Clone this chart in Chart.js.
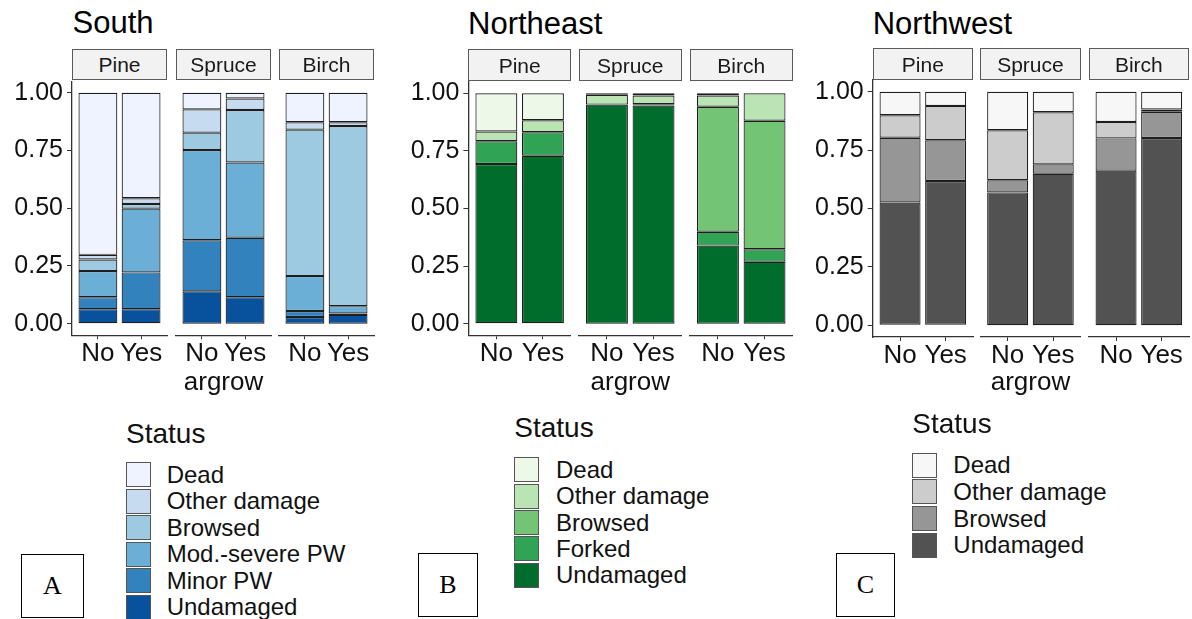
<!DOCTYPE html>
<html><head><meta charset="utf-8">
<script src="https://cdn.jsdelivr.net/npm/chart.js@4.4.1/dist/chart.umd.min.js"></script>
<style>
html,body{margin:0;padding:0;background:#fff;width:1192px;height:619px;overflow:hidden;position:relative;font-family:"Liberation Sans",Arial,sans-serif;color:#1a1a1a}
canvas{position:absolute}
.abs{position:absolute;white-space:nowrap;line-height:1}
.strip{position:absolute;box-sizing:border-box;border:1px solid #5a5a5a;background:#f2f2f2;display:flex;align-items:center;justify-content:center;font-size:21px;color:#1a1a1a;line-height:1;z-index:2}
.key{position:absolute;box-sizing:border-box;border:1.5px solid #555}
.letter{position:absolute;box-sizing:border-box;border:1px solid #000;display:flex;align-items:center;justify-content:center;font-family:"Liberation Serif","Times New Roman",serif;font-size:26px;color:#000;line-height:1}
</style></head><body>
<script>
// ---------- data ----------
const categories = ['No', 'Yes'];
const species = ['Pine', 'Spruce', 'Birch'];
const yTickValues = [0, 0.25, 0.5, 0.75, 1];
const panelTitles = ['South', 'Northeast', 'Northwest'];
const panelLetters = ['A', 'B', 'C'];
const xAxisTitle = 'argrow';
const legendTitle = 'Status';

// values ordered: Pine No, Pine Yes, Spruce No, Spruce Yes, Birch No, Birch Yes
const southUndamaged = [0.063, 0.063, 0.140, 0.115, 0.029, 0.038];
const southMinorPW   = [0.052, 0.159, 0.221, 0.257, 0.026, 0.006];
const southModSevere = [0.113, 0.276, 0.391, 0.326, 0.151, 0.032];
const southBrowsed   = [0.050, 0.020, 0.075, 0.227, 0.634, 0.780];
const southOther     = [0.020, 0.025, 0.101, 0.050, 0.032, 0.016];
const southDead      = [0.702, 0.457, 0.072, 0.025, 0.128, 0.128];

const neUndamaged = [0.693, 0.729, 0.951, 0.947, 0.339, 0.269];
const neForked    = [0.099, 0.102, 0.000, 0.006, 0.060, 0.054];
const neBrowsed   = [0.000, 0.000, 0.000, 0.000, 0.543, 0.558];
const neOther     = [0.042, 0.052, 0.043, 0.037, 0.048, 0.119];
const neDead      = [0.166, 0.117, 0.006, 0.010, 0.010, 0.000];

const nwUndamaged = [0.526, 0.618, 0.569, 0.649, 0.662, 0.802];
const nwBrowsed   = [0.277, 0.174, 0.052, 0.040, 0.138, 0.112];
const nwOther     = [0.096, 0.147, 0.214, 0.223, 0.070, 0.010];
const nwDead      = [0.101, 0.061, 0.165, 0.088, 0.130, 0.076];

// ---------- styling / layout ----------
const FONT = '"Liberation Sans", Arial, sans-serif';
const barEdge = '#1e1e1e';
const axisColor = '#333';

const panels = [
  { title: panelTitles[0], tx: 72.5, tb: 33, facetX: [72, 176, 279], fw: 95, top: 81.15, h: 254.1,
    stripTop: 48.7, stripH: 31.6,
    series: [
      { label: 'Undamaged', data: southUndamaged, color: '#08519c' },
      { label: 'Minor PW', data: southMinorPW, color: '#3182bd' },
      { label: 'Mod.-severe PW', data: southModSevere, color: '#6baed6' },
      { label: 'Browsed', data: southBrowsed, color: '#9ecae1' },
      { label: 'Other damage', data: southOther, color: '#c6dbef' },
      { label: 'Dead', data: southDead, color: '#eff3ff' } ],
    legend: { x: 126, titleBase: 443.3, keyTop: 462, step: 26.5, labelX: 166.7 },
    letter: { x: 20.7, y: 554, w: 63.6, h: 64.3 } },
  { title: panelTitles[1], tx: 468, tb: 34, facetX: [468.4, 579, 690], fw: 102.5, top: 81.8, h: 253.4,
    stripTop: 49.3, stripH: 31.7,
    series: [
      { label: 'Undamaged', data: neUndamaged, color: '#006d2c' },
      { label: 'Forked', data: neForked, color: '#31a354' },
      { label: 'Browsed', data: neBrowsed, color: '#74c476' },
      { label: 'Other damage', data: neOther, color: '#bae4b3' },
      { label: 'Dead', data: neDead, color: '#edf8e9' } ],
    legend: { x: 514.3, titleBase: 437.3, keyTop: 457.3, step: 26.3, labelX: 556 },
    letter: { x: 418.3, y: 552.7, w: 59.4, h: 64.6 } },
  { title: panelTitles[2], tx: 872.7, tb: 34, facetX: [872.7, 980.3, 1088.7], fw: 100.3, top: 80.0, h: 257.0,
    stripTop: 48.3, stripH: 31.7,
    series: [
      { label: 'Undamaged', data: nwUndamaged, color: '#525252' },
      { label: 'Browsed', data: nwBrowsed, color: '#969696' },
      { label: 'Other damage', data: nwOther, color: '#cccccc' },
      { label: 'Dead', data: nwDead, color: '#f7f7f7' } ],
    legend: { x: 912.3, titleBase: 433.3, keyTop: 452.7, step: 26.6, labelX: 953.3 },
    letter: { x: 836, y: 552.7, w: 59, h: 64 } }
];

function addText(txt, x, baseline, size, extra) {
  const d = document.createElement('div');
  d.className = 'abs';
  d.textContent = txt;
  d.style.left = x + 'px';
  d.style.top = (baseline - 0.8465 * size) + 'px';
  d.style.fontSize = size + 'px';
  if (extra) Object.assign(d.style, extra);
  document.body.appendChild(d);
  return d;
}

function makeFacet(p, f) {
  const withY = f === 0;
  const yW = withY ? 66 : 0;
  const fx = p.facetX[f];
  const left = Math.floor(fx - yW - 8);
  const right = Math.ceil(fx + p.fw + 8);
  const top = Math.floor(p.top - 26);
  const canvasBottom = 402;
  const chartBottom = p.top + p.h;
  const canvas = document.createElement('canvas');
  canvas.width = right - left;
  canvas.height = canvasBottom - top;
  canvas.style.left = left + 'px';
  canvas.style.top = top + 'px';
  document.body.appendChild(canvas);

  const datasets = p.series.map(s => ({
    label: s.label,
    data: categories.map((c, i) => ({ x: i + 1, y: s.data[2 * f + i] })),
    backgroundColor: s.color,
    borderColor: barEdge,
    borderWidth: 1.2,
    borderSkipped: false,
    inflateAmount: 0,
    barPercentage: 0.9,
    categoryPercentage: 1
  }));

  new Chart(canvas, {
    type: 'bar',
    data: { datasets },
    options: {
      responsive: false, animation: false, devicePixelRatio: 1,
      layout: { padding: { left: fx - yW - left, right: right - (fx + p.fw), top: p.top - top, bottom: 0 } },
      plugins: { legend: { display: false }, tooltip: { enabled: false } },
      scales: {
        x: {
          type: 'linear', min: 0.4, max: 2.6, offset: false, stacked: true,
          afterBuildTicks: s => { s.ticks = categories.map((c, i) => ({ value: i + 1 })); },
          afterFit: s => { s.height = canvasBottom - chartBottom; },
          ticks: { autoSkip: false, maxRotation: 0, minRotation: 0, padding: 2,
                   font: { family: FONT, size: 26, lineHeight: 1 }, color: '#111',
                   callback: v => categories[Math.round(v) - 1] || '' },
          grid: { display: true, drawOnChartArea: false, drawTicks: true, tickLength: 4,
                  tickColor: axisColor, tickWidth: 1, offset: false },
          border: { display: true, color: axisColor, width: 1.3 },
          title: { display: f === 1, text: xAxisTitle, font: { family: FONT, size: 26 }, color: '#111',
                   padding: { top: 0, bottom: 4 } }
        },
        y: {
          type: 'linear', min: -0.05, max: 1.05, stacked: true, display: withY,
          afterBuildTicks: s => { s.ticks = yTickValues.map(v => ({ value: v })); },
          afterFit: s => { s.width = yW; },
          ticks: { padding: 4, font: { family: FONT, size: 25 }, color: '#111',
                   callback: v => Number(v).toFixed(2) },
          grid: { display: true, drawOnChartArea: false, drawTicks: true, tickLength: 5,
                  tickColor: axisColor, tickWidth: 1 },
          border: { display: true, color: axisColor, width: 1.3 }
        }
      }
    }
  });
}

panels.forEach((p, pi) => {
  addText(p.title, p.tx, p.tb, 31, { color: '#000' });
  species.forEach((sp, f) => {
    makeFacet(p, f);
    const s = document.createElement('div');
    s.className = 'strip';
    s.textContent = sp;
    s.style.left = p.facetX[f] + 'px';
    s.style.width = p.fw + 'px';
    s.style.top = p.stripTop + 'px';
    s.style.height = p.stripH + 'px';
    document.body.appendChild(s);
  });
  const L = p.legend;
  addText(legendTitle, L.x, L.titleBase, 28, { color: '#111' });
  const items = p.series.slice().reverse();
  items.forEach((it, i) => {
    const k = document.createElement('div');
    k.className = 'key';
    const kt = L.keyTop + i * L.step;
    k.style.left = L.x + 'px';
    k.style.top = kt + 'px';
    k.style.width = '24.7px';
    k.style.height = '25px';
    k.style.background = it.color;
    document.body.appendChild(k);
    addText(it.label, L.labelX, kt + 12.5 + 0.358 * 24, 24, { color: '#111' });
  });
  const b = document.createElement('div');
  b.className = 'letter';
  b.textContent = panelLetters[pi];
  b.style.left = p.letter.x + 'px';
  b.style.top = p.letter.y + 'px';
  b.style.width = p.letter.w + 'px';
  b.style.height = p.letter.h + 'px';
  document.body.appendChild(b);
});
</script>
</body></html>
